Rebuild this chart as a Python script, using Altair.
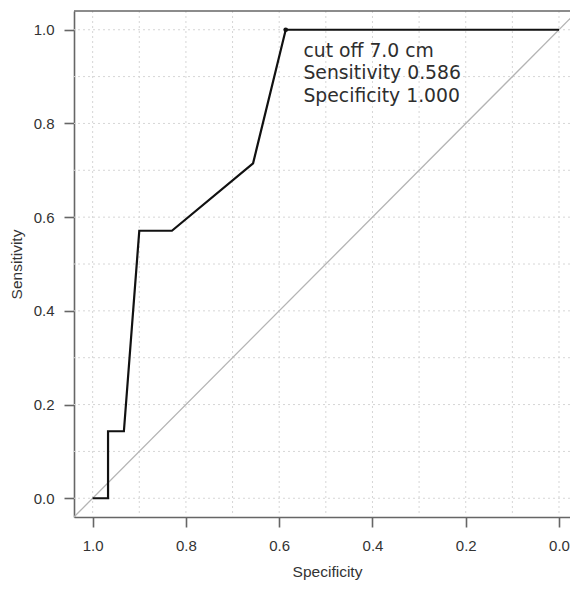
import altair as alt
import pandas as pd

# ROC curve (specificity, sensitivity) in drawing order
specificity = [1.0, 0.967, 0.967, 0.933, 0.900, 0.830, 0.656, 0.586, 0.0]
sensitivity = [0.0, 0.0, 0.143, 0.143, 0.571, 0.571, 0.715, 1.0, 1.0]

# cut-off point
cut_spec = [0.586]
cut_sens = [1.0]

# reference diagonal (sensitivity = 1 - specificity), extended over the plot
diag_spec = [1.1, -0.1]
diag_sens = [-0.1, 1.1]

tick_values = [0.0, 0.2, 0.4, 0.6, 0.8, 1.0]
grid_values = [0.0, 0.1, 0.2, 0.3, 0.4, 0.5, 0.6, 0.7, 0.8, 0.9, 1.0]

annot_lines = ["cut off 7.0 cm", "Sensitivity 0.586", "Specificity 1.000"]
annot_spec = [0.548]
annot_sens = [0.942]

roc = pd.DataFrame({"spec": specificity, "sens": sensitivity, "i": range(len(specificity))})
cut = pd.DataFrame({"spec": cut_spec, "sens": cut_sens})
diag = pd.DataFrame({"spec": diag_spec, "sens": diag_sens, "i": [0, 1]})
grid = pd.DataFrame({"spec": grid_values, "sens": grid_values})
annot = pd.DataFrame({"spec": annot_spec, "sens": annot_sens, "txt": [annot_lines]})
top = pd.DataFrame({"k": [0]})

xscale = alt.Scale(domain=[-0.0236, 1.04], reverse=True, nice=False, zero=False)
yscale = alt.Scale(domain=[-0.04, 1.04], nice=False, zero=False)

axis_common = dict(
    values=tick_values, format=".1f", grid=False,
    domainColor="#666666", domainWidth=1.6,
    tickColor="#666666", tickWidth=1.6, tickSize=10,
    labelFont="Liberation Sans", labelFontSize=15, labelColor="#333333",
    titleFont="Liberation Sans", titleFontSize=15.5, titleFontWeight="normal",
    titleColor="#333333",
)
xaxis = alt.Axis(title="Specificity", labelPadding=11, titlePadding=11, titleX=253, **axis_common)
yaxis = alt.Axis(title="Sensitivity", labelPadding=10, titlePadding=9, **axis_common)


def X():
    return alt.X("spec:Q", scale=xscale, axis=xaxis)


def Y():
    return alt.Y("sens:Q", scale=yscale, axis=yaxis)


vgrid = alt.Chart(grid).mark_rule(color="#d6d6d6", strokeDash=[2, 3], strokeWidth=1).encode(x=X())
hgrid = alt.Chart(grid).mark_rule(color="#d6d6d6", strokeDash=[2, 3], strokeWidth=1).encode(y=Y())
diag_line = alt.Chart(diag).mark_line(color="#b4b4b4", strokeWidth=1.3, clip=True).encode(
    x=X(), y=Y(), order="i:O"
)
roc_line = alt.Chart(roc).mark_line(color="#111111", strokeWidth=2.2).encode(
    x=X(), y=Y(), order="i:O"
)
cut_pt = alt.Chart(cut).mark_point(filled=True, color="#111111", size=22, opacity=1).encode(
    x=X(), y=Y()
)
annot_text = alt.Chart(annot).mark_text(
    align="left", baseline="alphabetic", font="DejaVu Sans", fontSize=18.8,
    lineHeight=22.5, color="#2e2e2e",
).encode(x=X(), y=Y(), text="txt")
top_border = alt.Chart(top).mark_rule(color="#666666", strokeWidth=1.6).encode(
    y=alt.value(0)
)

chart = alt.layer(vgrid, hgrid, diag_line, roc_line, cut_pt, annot_text, top_border).properties(
    width=496, height=506,
    autosize=alt.AutoSizeParams(type="none"),
    padding={"left": 66, "top": 3, "right": 0, "bottom": 68},
).configure_view(stroke=None)

chart.save("out.html", embed_options={"renderer": "svg", "actions": False})
